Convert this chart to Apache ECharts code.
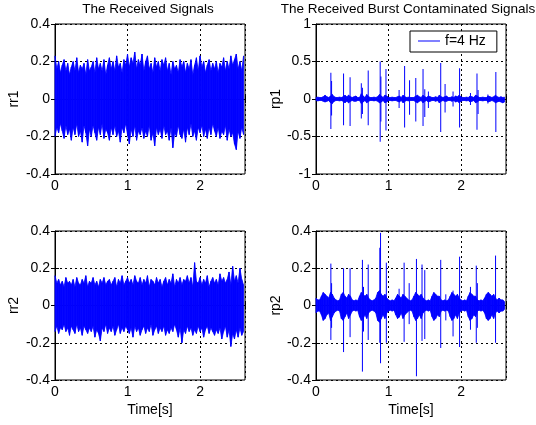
<!DOCTYPE html>
<html><head><meta charset="utf-8">
<script src="https://cdn.jsdelivr.net/npm/echarts@6/dist/echarts.min.js"></script>
<style>html,body{margin:0;padding:0;background:#fff}#c{width:536px;height:425px}</style>
</head><body><div id="c"></div>
<script>
// sample interval of the envelope readings (s)
var dt = 0.025;
var xTicks = [0, 1, 2];
var rrTicks = [-0.4, -0.2, 0, 0.2, 0.4];
var rp1Ticks = [-1, -0.5, 0, 0.5, 1];
var titles = ['The Received Signals', 'The Received Burst Contaminated Signals'];
var yNames = ['rr1', 'rp1', 'rr2', 'rp2'];
var legendName = 'f=4 Hz';

// rr1: upper / lower peak envelope per 0.025 s
var rr1Hi = [0.23,0.16,0.2,0.14,0.18,0.21,0.15,0.19,0.13,0.17,
  0.2,0.15,0.22,0.14,0.18,0.16,0.19,0.13,0.21,0.15,
  0.17,0.2,0.14,0.22,0.16,0.19,0.15,0.21,0.13,0.18,
  0.22,0.16,0.2,0.15,0.23,0.17,0.19,0.14,0.21,0.18,
  0.24,0.17,0.22,0.19,0.25,0.16,0.21,0.18,0.24,0.15,
  0.2,0.23,0.16,0.19,0.14,0.22,0.17,0.2,0.15,0.21,
  0.18,0.22,0.15,0.19,0.13,0.2,0.16,0.18,0.14,0.21,
  0.17,0.2,0.14,0.19,0.16,0.21,0.13,0.18,0.22,0.15,
  0.23,0.17,0.2,0.14,0.18,0.21,0.15,0.19,0.16,0.2,
  0.14,0.19,0.17,0.22,0.15,0.2,0.16,0.23,0.18,0.21,
  0.24,0.16,0.2,0.15,0.23];
var rr1Lo = [-0.2,-0.15,-0.18,-0.13,-0.17,-0.21,-0.14,-0.19,-0.16,-0.22,
  -0.15,-0.19,-0.13,-0.2,-0.17,-0.23,-0.14,-0.18,-0.25,-0.16,
  -0.2,-0.14,-0.18,-0.22,-0.15,-0.19,-0.13,-0.21,-0.16,-0.18,
  -0.22,-0.15,-0.19,-0.14,-0.2,-0.17,-0.23,-0.15,-0.18,-0.13,
  -0.19,-0.24,-0.16,-0.2,-0.14,-0.22,-0.17,-0.19,-0.15,-0.21,
  -0.17,-0.2,-0.14,-0.22,-0.18,-0.25,-0.15,-0.19,-0.16,-0.21,
  -0.14,-0.19,-0.17,-0.22,-0.15,-0.26,-0.18,-0.2,-0.14,-0.19,
  -0.21,-0.16,-0.23,-0.15,-0.19,-0.13,-0.2,-0.17,-0.22,-0.15,
  -0.18,-0.14,-0.2,-0.16,-0.21,-0.15,-0.19,-0.13,-0.17,-0.2,
  -0.15,-0.21,-0.17,-0.19,-0.14,-0.22,-0.16,-0.2,-0.18,-0.24,
  -0.27,-0.17,-0.21,-0.15,-0.19];

// rr2
var rr2Hi = [0.16,0.12,0.14,0.11,0.13,0.1,0.15,0.12,0.13,0.11,
  0.14,0.1,0.15,0.12,0.11,0.14,0.12,0.16,0.1,0.13,
  0.12,0.15,0.11,0.13,0.1,0.14,0.12,0.15,0.11,0.13,
  0.14,0.11,0.13,0.15,0.1,0.14,0.12,0.16,0.11,0.13,
  0.15,0.12,0.14,0.11,0.16,0.13,0.12,0.15,0.11,0.14,
  0.12,0.16,0.1,0.14,0.13,0.11,0.15,0.12,0.14,0.1,
  0.13,0.15,0.11,0.14,0.12,0.17,0.1,0.14,0.12,0.15,
  0.11,0.14,0.13,0.16,0.12,0.15,0.1,0.23,0.13,0.12,
  0.15,0.11,0.14,0.12,0.16,0.1,0.13,0.15,0.12,0.14,
  0.11,0.17,0.13,0.15,0.12,0.14,0.18,0.11,0.21,0.13,
  0.16,0.12,0.2,0.14,0.11];
var rr2Lo = [-0.14,-0.11,-0.15,-0.12,-0.13,-0.1,-0.14,-0.12,-0.16,-0.11,
  -0.13,-0.15,-0.1,-0.14,-0.12,-0.16,-0.11,-0.13,-0.15,-0.12,
  -0.14,-0.11,-0.17,-0.13,-0.15,-0.19,-0.12,-0.14,-0.1,-0.15,
  -0.12,-0.14,-0.11,-0.16,-0.13,-0.1,-0.15,-0.12,-0.14,-0.11,
  -0.13,-0.15,-0.12,-0.17,-0.11,-0.14,-0.12,-0.16,-0.13,-0.11,
  -0.15,-0.12,-0.14,-0.1,-0.16,-0.13,-0.11,-0.15,-0.12,-0.14,
  -0.11,-0.16,-0.13,-0.15,-0.12,-0.14,-0.1,-0.13,-0.17,-0.12,
  -0.2,-0.13,-0.15,-0.11,-0.14,-0.12,-0.16,-0.13,-0.15,-0.11,
  -0.14,-0.12,-0.17,-0.13,-0.11,-0.15,-0.12,-0.14,-0.16,-0.13,
  -0.15,-0.12,-0.18,-0.14,-0.11,-0.17,-0.13,-0.22,-0.15,-0.18,
  -0.13,-0.17,-0.12,-0.16,-0.14];

// rp1 background band
var rp1Hi = [0.02,0.025,0.02,0.02,0.03,0.05,0.03,0.02,0.04,0.06,
  0.03,0.02,0.02,0.025,0.02,0.03,0.05,0.03,0.05,0.03,
  0.02,0.03,0.04,0.02,0.02,0.07,0.04,0.02,0.06,0.03,
  0.02,0.02,0.025,0.02,0.03,0.06,0.04,0.02,0.05,0.04,
  0.02,0.02,0.025,0.02,0.02,0.03,0.04,0.02,0.05,0.03,
  0.02,0.025,0.02,0.02,0.02,0.04,0.05,0.03,0.02,0.05,
  0.03,0.02,0.04,0.03,0.02,0.02,0.03,0.02,0.05,0.03,
  0.02,0.03,0.04,0.02,0.02,0.03,0.02,0.04,0.03,0.05,
  0.03,0.02,0.02,0.025,0.02,0.04,0.03,0.02,0.05,0.04,
  0.02,0.02,0.025,0.02,0.02,0.04,0.03,0.02,0.03,0.05,
  0.03,0.02,0.03,0.02,0.025];
var rp1Lo = [-0.02,-0.025,-0.02,-0.02,-0.03,-0.04,-0.03,-0.02,-0.05,-0.06,
  -0.03,-0.02,-0.02,-0.025,-0.02,-0.03,-0.05,-0.03,-0.05,-0.03,
  -0.02,-0.03,-0.03,-0.02,-0.02,-0.06,-0.04,-0.02,-0.05,-0.03,
  -0.02,-0.02,-0.025,-0.02,-0.03,-0.05,-0.04,-0.02,-0.05,-0.04,
  -0.02,-0.02,-0.025,-0.02,-0.02,-0.03,-0.04,-0.02,-0.05,-0.03,
  -0.02,-0.025,-0.02,-0.02,-0.02,-0.04,-0.05,-0.03,-0.02,-0.05,
  -0.03,-0.02,-0.04,-0.03,-0.02,-0.02,-0.03,-0.02,-0.05,-0.03,
  -0.02,-0.03,-0.03,-0.02,-0.02,-0.03,-0.02,-0.04,-0.03,-0.05,
  -0.03,-0.02,-0.02,-0.025,-0.02,-0.04,-0.03,-0.02,-0.05,-0.04,
  -0.02,-0.02,-0.025,-0.02,-0.02,-0.04,-0.03,-0.02,-0.03,-0.05,
  -0.04,-0.03,-0.04,-0.05,-0.04];
// rp1 bursts: time, top, bottom
var rp1SpikeT   = [0.205,0.215,0.38,0.47,0.625,0.64,0.72,0.885,0.895,0.965,1.146,1.222,1.29,1.376,1.476,1.5,1.55,1.72,1.78,1.89,1.98,2.13,2.22,2.235,2.37,2.48];
var rp1SpikeTop = [0.35,0.24,0.34,0.29,0.21,0.15,0.38,0.5,0.3,0.4,0.12,0.44,0.25,0.28,0.4,0.13,0.1,0.48,0.2,0.1,0.41,0.08,0.34,0.12,0.06,0.36];
var rp1SpikeBot = [-0.4,-0.22,-0.35,-0.36,-0.26,-0.2,-0.35,-0.57,-0.3,-0.42,-0.12,-0.38,-0.21,-0.3,-0.36,-0.24,-0.12,-0.44,-0.18,-0.1,-0.38,-0.08,-0.41,-0.2,-0.06,-0.44];

// rp2 background band
var rp2Hi = [0.04,0.03,0.03,0.05,0.07,0.06,0.05,0.04,0.07,0.06,
  0.04,0.03,0.025,0.03,0.06,0.07,0.05,0.04,0.06,0.05,
  0.03,0.025,0.03,0.025,0.05,0.07,0.06,0.05,0.06,0.04,
  0.03,0.025,0.03,0.04,0.07,0.08,0.06,0.05,0.06,0.04,
  0.03,0.025,0.03,0.025,0.04,0.06,0.05,0.04,0.06,0.05,
  0.04,0.03,0.025,0.03,0.05,0.07,0.06,0.05,0.06,0.04,
  0.03,0.025,0.03,0.025,0.05,0.07,0.06,0.05,0.05,0.03,
  0.025,0.03,0.025,0.03,0.05,0.07,0.06,0.05,0.06,0.04,
  0.03,0.025,0.03,0.025,0.05,0.07,0.06,0.05,0.05,0.03,
  0.025,0.03,0.025,0.04,0.06,0.07,0.06,0.05,0.06,0.04,
  0.03,0.04,0.03,0.03,0.02];
var rp2Lo = [-0.04,-0.03,-0.03,-0.05,-0.08,-0.07,-0.05,-0.04,-0.08,-0.06,
  -0.04,-0.03,-0.025,-0.03,-0.07,-0.08,-0.06,-0.04,-0.07,-0.05,
  -0.03,-0.025,-0.03,-0.025,-0.06,-0.08,-0.07,-0.05,-0.07,-0.04,
  -0.03,-0.025,-0.03,-0.04,-0.08,-0.09,-0.07,-0.05,-0.07,-0.04,
  -0.03,-0.025,-0.03,-0.025,-0.05,-0.07,-0.06,-0.04,-0.07,-0.05,
  -0.04,-0.03,-0.025,-0.03,-0.06,-0.08,-0.07,-0.05,-0.07,-0.04,
  -0.03,-0.025,-0.03,-0.025,-0.06,-0.08,-0.07,-0.05,-0.06,-0.03,
  -0.025,-0.03,-0.025,-0.03,-0.06,-0.08,-0.07,-0.05,-0.07,-0.04,
  -0.03,-0.025,-0.03,-0.025,-0.06,-0.08,-0.07,-0.05,-0.06,-0.03,
  -0.025,-0.03,-0.025,-0.04,-0.07,-0.08,-0.07,-0.05,-0.07,-0.04,
  -0.03,-0.04,-0.03,-0.03,-0.02];
var rp2SpikeT   = [0.205,0.215,0.38,0.47,0.64,0.655,0.72,0.88,0.89,0.97,1.146,1.215,1.285,1.385,1.462,1.5,1.72,1.79,1.89,1.98,2.13,2.21,2.225,2.38,2.476];
var rp2SpikeTop = [0.225,0.12,0.2,0.2,0.245,0.1,0.22,0.31,0.39,0.23,0.09,0.23,0.12,0.25,0.22,0.19,0.245,0.06,0.08,0.262,0.1,0.214,0.12,0.07,0.268];
var rp2SpikeBot = [-0.185,-0.12,-0.25,-0.17,-0.355,-0.14,-0.185,-0.2,-0.31,-0.2,-0.065,-0.195,-0.1,-0.38,-0.19,-0.18,-0.228,-0.08,-0.166,-0.223,-0.13,-0.2,-0.12,-0.06,-0.2];

var BLUE = '#0000ff';

// filled band between the lower and upper envelope; each item draws the strip to the next sample
function bandSeries(i, hi, lo, name) {
  var d = [];
  for (var k = 0; k < hi.length; k++) d.push([k * dt, hi[k], lo[k]]);
  return {
    type: 'custom', name: name, xAxisIndex: i * 2, yAxisIndex: i * 2, data: d,
    encode: {x: 0, y: [1, 2]}, color: BLUE, animation: false, silent: true, z: 2,
    renderItem: function (params, api) {
      var k = params.dataIndex;
      if (k >= d.length - 1) return null;
      var n = d[k + 1];
      var a = api.coord([api.value(0), api.value(1)]);
      var b = api.coord([n[0], n[1]]);
      var c = api.coord([n[0], n[2]]);
      var e = api.coord([api.value(0), api.value(2)]);
      return {type: 'polygon', shape: {points: [a, b, c, e]},
        style: {fill: BLUE, stroke: BLUE, lineWidth: 0.8}};
    }
  };
}
// isolated burst spikes as vertical strokes
function spikeSeries(i, sT, sTop, sBot) {
  var d = [];
  for (var k = 0; k < sT.length; k++) {
    d.push([sT[k], sTop[k]]);
    d.push([sT[k], sBot[k]]);
    d.push([sT[k], '-']);
  }
  return {type: 'line', name: 'spk' + i, xAxisIndex: i * 2, yAxisIndex: i * 2, data: d,
    showSymbol: false, symbol: 'none', connectNulls: false, animation: false, silent: true,
    lineStyle: {color: BLUE, width: 1}, color: BLUE, z: 3};
}

var chart = echarts.init(document.getElementById('c'), null, {renderer: 'canvas'});
var FONT = 'Liberation Sans, Arial, sans-serif';
var grids = [
  {left: 55, top: 24, width: 190, height: 150},
  {left: 316, top: 24, width: 190, height: 150},
  {left: 55, top: 231, width: 190, height: 149},
  {left: 316, top: 231, width: 190, height: 149}
];
var yRanges = [rrTicks, rp1Ticks, rrTicks, rrTicks];
var dash = {color: '#000', width: 1, type: [2, 3]};
var xAxes = [], yAxes = [];
grids.forEach(function (g, i) {
  g.show = true; g.borderColor = '#000'; g.borderWidth = 1; g.backgroundColor = '#fff';
  var yt = yRanges[i];
  var yInt = yt[1] - yt[0];
  xAxes.push({
    type: 'value', gridIndex: i, min: xTicks[0], max: 2.62, interval: 1,
    axisLine: {show: true, lineStyle: {color: '#000'}},
    axisTick: {show: true, inside: true, length: 4, lineStyle: {color: '#000'}},
    axisLabel: {color: '#000', fontFamily: FONT, fontSize: 14, margin: 5,
      formatter: function (v) { return xTicks.indexOf(v) >= 0 ? String(v) : ''; }},
    splitLine: {show: true, lineStyle: dash},
    name: i >= 2 ? 'Time[s]' : '', nameLocation: 'middle', nameGap: 23,
    nameTextStyle: {color: '#000', fontFamily: FONT, fontSize: 14}
  });
  xAxes.push({
    type: 'value', gridIndex: i, min: xTicks[0], max: 2.62, interval: 1, position: 'top',
    axisLine: {show: false}, axisLabel: {show: false}, splitLine: {show: false},
    axisTick: {show: true, inside: true, length: 4, lineStyle: {color: '#000'}}
  });
  yAxes.push({
    type: 'value', gridIndex: i, min: yt[0], max: yt[yt.length - 1], interval: yInt,
    axisLine: {show: true, lineStyle: {color: '#000'}},
    axisTick: {show: true, inside: true, length: 4, lineStyle: {color: '#000'}},
    axisLabel: {color: '#000', fontFamily: FONT, fontSize: 14, margin: 5,
      formatter: function (v) { return String(Math.round(v * 10) / 10); }},
    splitLine: {show: true, lineStyle: dash},
    name: yNames[i], nameLocation: 'middle', nameGap: i % 2 ? 32 : 34,
    nameTextStyle: {color: '#000', fontFamily: FONT, fontSize: 14}
  });
  yAxes.push({
    type: 'value', gridIndex: i, min: yt[0], max: yt[yt.length - 1], interval: yInt, position: 'right',
    axisLine: {show: false}, axisLabel: {show: false}, splitLine: {show: false},
    axisTick: {show: true, inside: true, length: 4, lineStyle: {color: '#000'}}
  });
});

var series = [
  bandSeries(0, rr1Hi, rr1Lo, 'rr1'),
  bandSeries(1, rp1Hi, rp1Lo, legendName),
  spikeSeries(1, rp1SpikeT, rp1SpikeTop, rp1SpikeBot),
  bandSeries(2, rr2Hi, rr2Lo, 'rr2'),
  bandSeries(3, rp2Hi, rp2Lo, 'rp2'),
  spikeSeries(3, rp2SpikeT, rp2SpikeTop, rp2SpikeBot)
];

chart.setOption({
  animation: false,
  backgroundColor: '#fff',
  title: [
    {text: titles[0], left: 143, top: -3, textAlign: 'center',
      textStyle: {color: '#000', fontFamily: FONT, fontSize: 13.5, fontWeight: 'normal'}},
    {text: titles[1], left: 403, top: -3, textAlign: 'center',
      textStyle: {color: '#000', fontFamily: FONT, fontSize: 13.5, fontWeight: 'normal'}}
  ],
  legend: {
    data: [{name: legendName, icon: 'rect', itemStyle: {color: BLUE}}], left: 410, top: 31, orient: 'vertical',
    itemWidth: 22, itemHeight: 1, itemGap: 0,
    padding: [3, 11, 4, 8], borderColor: '#000', borderWidth: 1, backgroundColor: '#fff',
    textStyle: {color: '#000', fontFamily: FONT, fontSize: 14}
  },
  grid: grids,
  xAxis: xAxes,
  yAxis: yAxes,
  series: series
});
</script></body></html>
